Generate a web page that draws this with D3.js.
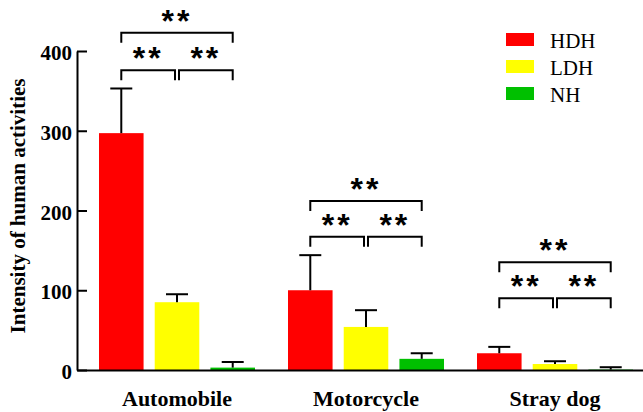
<!DOCTYPE html>
<html>
<head>
<meta charset="utf-8">
<script src="https://cdn.jsdelivr.net/npm/d3@7"></script>
<style>
  html, body { margin: 0; padding: 0; background: #fff; }
  svg { display: block; font-family: "Liberation Serif", "Times New Roman", serif; }
  .serif { font-family: "Liberation Serif", "Times New Roman", serif; }
</style>
</head>
<body>
<div id="chart"></div>
<script>
// categories and groups
const categories = ["Automobile", "Motorcycle", "Stray dog"];
const groups = ["HDH", "LDH", "NH"];

// bar heights (mean) and upper error (SD) per group
const hdh = [297, 100, 21];
const ldh = [85, 54, 7.5];
const nh = [3, 14, 0.5];
const hdhErr = [56, 44, 8];
const ldhErr = [10, 21, 3.5];
const nhErr = [7, 7, 3];

// significance brackets, heights in data units
const lowerBracket = [376, 167, 90];
const upperBracket = [423, 212, 135];
const sigLabel = "**";

const yTicks = [0, 100, 200, 300, 400];
const colors = ["#ff0000", "#ffff00", "#00c000"];

const width = 643, height = 412;

const svg = d3.select("#chart").append("svg")
    .attr("width", width)
    .attr("height", height);

const x0 = d3.scaleBand()
    .domain(categories)
    .range([77, 655])
    .paddingInner(0.1746)
    .paddingOuter(0.1164);

const x1 = d3.scaleBand()
    .domain(groups)
    .range([0, x0.bandwidth()])
    .paddingInner(0.2);

const y = d3.scaleLinear()
    .domain([0, 400])
    .range([370, 51]);

const color = d3.scaleOrdinal().domain(groups).range(colors);

const means = { HDH: hdh, LDH: ldh, NH: nh };
const errs = { HDH: hdhErr, LDH: ldhErr, NH: nhErr };

const rows = [];
categories.forEach((c, i) => {
    groups.forEach(g => {
        rows.push({ cat: c, group: g, value: means[g][i], err: errs[g][i] });
    });
});

const cx = d => x0(d.cat) + x1(d.group) + x1.bandwidth() / 2;

// bars
svg.append("g").selectAll("rect")
    .data(rows)
    .join("rect")
    .attr("x", d => x0(d.cat) + x1(d.group))
    .attr("y", d => y(d.value))
    .attr("width", x1.bandwidth())
    .attr("height", d => y(0) - y(d.value))
    .attr("fill", d => color(d.group));

// error bars (upper only)
const eb = svg.append("g")
    .attr("stroke", "#000")
    .attr("stroke-width", 2)
    .selectAll("g")
    .data(rows)
    .join("g");

eb.append("line")
    .attr("x1", cx).attr("x2", cx)
    .attr("y1", d => y(d.value))
    .attr("y2", d => y(d.value + d.err));

eb.append("line")
    .attr("x1", d => cx(d) - 11).attr("x2", d => cx(d) + 11)
    .attr("y1", d => y(d.value + d.err))
    .attr("y2", d => y(d.value + d.err));

// axes
const yAxis = svg.append("g")
    .attr("transform", "translate(77,0)")
    .call(d3.axisLeft(y).tickValues(yTicks).tickSizeInner(-10).tickSizeOuter(0).tickPadding(5));

yAxis.attr("font-family", null);
yAxis.select(".domain").attr("stroke-width", 2);
yAxis.selectAll(".tick line").attr("stroke-width", 2);
yAxis.selectAll(".tick text")
    .attr("class", "serif")
    .attr("dy", null)
    .attr("y", 8.5)
    .attr("font-weight", "bold")
    .attr("font-size", 21)
    .attr("fill", "#000");

const xAxis = svg.append("g")
    .attr("transform", "translate(0,370)")
    .call(d3.axisBottom(x0).tickSize(0).tickPadding(20));

xAxis.attr("font-family", null);
xAxis.select(".domain").attr("stroke-width", 2);
xAxis.selectAll(".tick text")
    .attr("class", "serif")
    .attr("font-weight", "bold")
    .attr("font-size", 22)
    .attr("fill", "#000");

// y title
svg.append("text")
    .attr("class", "serif")
    .attr("transform", "translate(25,206) rotate(-90)")
    .attr("text-anchor", "middle")
    .attr("font-weight", "bold")
    .attr("font-size", 21)
    .text("Intensity of human activities");

// significance brackets
const br = svg.append("g");
const leg = 10;
categories.forEach((c, i) => {
    const xa = x0(c) + x1("HDH") + x1.bandwidth() / 2;
    const xb = x0(c) + x1("LDH") + x1.bandwidth() / 2;
    const xc = x0(c) + x1("NH") + x1.bandwidth() / 2;
    const yl = y(lowerBracket[i]);
    const yu = y(upperBracket[i]);
    const spans = [[xa, xb - 2, yl], [xb + 2, xc, yl], [xa, xc, yu]];
    spans.forEach(([a, b, yy]) => {
        br.append("path")
            .attr("d", `M${a},${yy + leg}V${yy}H${b}V${yy + leg}`)
            .attr("fill", "none")
            .attr("stroke", "#000")
            .attr("stroke-width", 2);
        br.append("text")
            .attr("x", (a + b) / 2)
            .attr("y", yy - 1)
            .attr("text-anchor", "middle")
            .style("font-family", "'Liberation Sans', Arial, sans-serif")
            .style("font-weight", "bold")
            .style("font-size", "32px")
            .style("letter-spacing", "3px")
            .text(sigLabel);
    });
});

// legend
const legend = svg.append("g")
    .selectAll("g")
    .data(groups)
    .join("g")
    .attr("transform", (d, i) => `translate(506,${33 + i * 27})`);

legend.append("rect")
    .attr("width", 28)
    .attr("height", 13)
    .attr("fill", d => color(d));

legend.append("text")
    .attr("class", "serif")
    .attr("x", 44)
    .attr("y", 14.5)
    .attr("font-size", 21)
    .text(d => d);
</script>
</body>
</html>
